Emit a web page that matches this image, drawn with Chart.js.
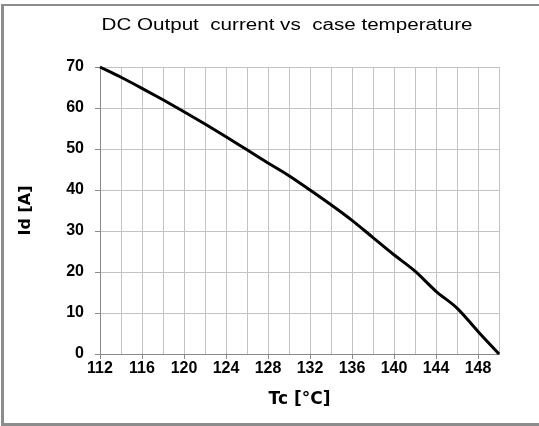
<!DOCTYPE html>
<html>
<head>
<meta charset="utf-8">
<script src="https://cdn.jsdelivr.net/npm/chart.js@4.4.1/dist/chart.umd.min.js"></script>
<style>
  html, body { margin: 0; padding: 0; background: #fff; }
  #wrap { position: relative; width: 539px; height: 426px; overflow: hidden; }
  #frame {
    position: absolute; left: 1px; top: 4px; right: -10px; bottom: 0;
    border-left: 3px solid #8c8c8c;
    border-top: 2px solid #8c8c8c;
    border-bottom: 3px solid #8c8c8c;
    pointer-events: none;
  }
</style>
</head>
<body>
<div id="wrap">
  <canvas id="chart" width="539" height="426"></canvas>
  <div id="frame"></div>
</div>
<script>
const chartTitle = 'DC Output  current vs  case temperature';
const xTitle = 'Tc [°C]';
const yTitle = 'Id [A]';

// case temperature [°C] and DC output current [A]
const tempC = [112, 114, 116, 118, 120, 122, 124, 126, 128, 130, 132, 134, 136, 138, 140, 142, 144, 146, 148, 150];
const currentA = [70, 67.5, 64.8, 62, 59.1, 56.1, 53, 49.8, 46.6, 43.5, 40, 36.4, 32.6, 28.4, 24.2, 20.2, 15.3, 11.2, 5.5, 0];

const xMin = 112, xMax = 150, xStep = 2, xLabelStep = 4;
const yMin = 0, yMax = 70, yStep = 10;

const tickFont = { family: "'Liberation Sans Narrow', 'Arial Narrow', 'Liberation Sans', Arial, sans-serif", size: 16, weight: 'bold' };
const titleFont = { family: "'DejaVu Sans', sans-serif", size: 16, weight: 'bold' };
const gridColor = '#c3c3c3';
const axisColor = '#8a8a8a';

// title drawn stretched, as in the original
const titlePlugin = {
  id: 'stretchedTitle',
  afterDraw(chart) {
    const ctx = chart.ctx;
    ctx.save();
    ctx.font = "16px 'Liberation Sans', Arial, sans-serif";
    ctx.fillStyle = '#000';
    ctx.textAlign = 'center';
    ctx.textBaseline = 'alphabetic';
    const w = ctx.measureText(chartTitle).width;
    ctx.translate(287, 30);
    ctx.scale(371 / w, 1);
    ctx.fillText(chartTitle, 0, 0);
    ctx.restore();
  }
};

const ctx = document.getElementById('chart');

new Chart(ctx, {
  type: 'line',
  data: {
    datasets: [{
      label: 'Id',
      data: tempC.map((t, i) => ({ x: t, y: currentA[i] })),
      borderColor: '#000',
      borderWidth: 3,
      pointRadius: 0,
      cubicInterpolationMode: 'monotone',
      fill: false,
      clip: 4
    }]
  },
  options: {
    responsive: false,
    animation: false,
    layout: { padding: { top: 67, right: 40, bottom: 0, left: 0 } },
    plugins: {
      legend: { display: false },
      tooltip: { enabled: false },
      title: { display: false }
    },
    scales: {
      x: {
        type: 'linear',
        min: xMin,
        max: xMax,
        afterFit(scale) { scale.height = 72; },
        grid: {
          color: gridColor,
          lineWidth: 1,
          tickLength: 5,
          tickColor: (c) => (c.tick && c.tick.value % xLabelStep === 0 ? axisColor : 'rgba(0,0,0,0)')
        },
        border: { color: axisColor, width: 1 },
        ticks: {
          stepSize: xStep,
          autoSkip: false,
          maxRotation: 0,
          padding: 0,
          color: '#000',
          font: tickFont,
          callback: (v) => (v % xLabelStep === 0 ? String(v) : '')
        },
        title: {
          display: true,
          text: xTitle,
          color: '#000',
          font: { ...titleFont, size: 17 },
          padding: { top: 0, bottom: 16 }
        }
      },
      y: {
        min: yMin,
        max: yMax,
        afterFit(scale) { scale.width = 100; },
        grid: {
          color: gridColor,
          lineWidth: 1,
          tickLength: 5,
          tickColor: axisColor
        },
        border: { color: axisColor, width: 1 },
        ticks: {
          stepSize: yStep,
          padding: 11,
          color: '#000',
          font: tickFont
        },
        title: {
          display: true,
          text: yTitle,
          color: '#000',
          font: titleFont,
          padding: { top: 16, bottom: 0 }
        }
      }
    }
  },
  plugins: [titlePlugin]
});
</script>
</body>
</html>
